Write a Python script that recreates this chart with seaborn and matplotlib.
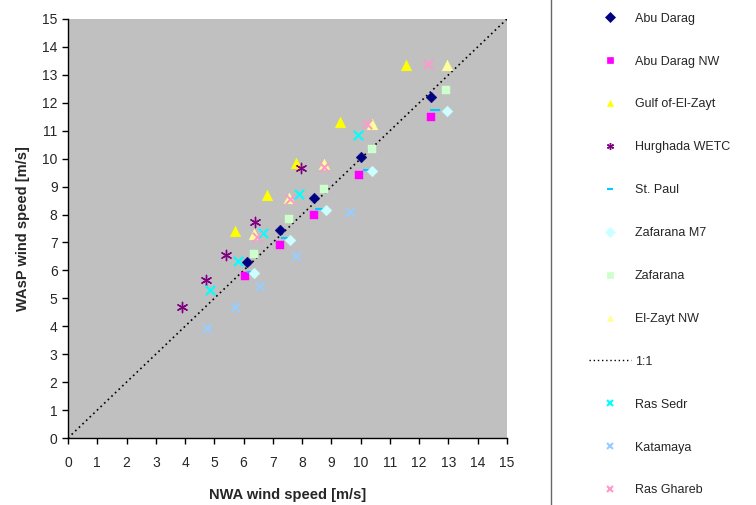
import matplotlib
matplotlib.use("Agg")
import matplotlib.pyplot as plt
from matplotlib.lines import Line2D
import seaborn as sns

# NWA vs WAsP wind speeds per station (m/s)
abu_darag_x = [6.1, 7.25, 8.4, 10.0, 12.4]
abu_darag_y = [6.3, 7.45, 8.6, 10.05, 12.2]
abu_darag_nw_x = [6.05, 7.25, 8.4, 9.95, 12.4]
abu_darag_nw_y = [5.8, 6.9, 8.0, 9.4, 11.5]
gulf_x = [5.7, 6.8, 7.8, 9.3, 11.55]
gulf_y = [7.4, 8.7, 9.85, 11.3, 13.35]
hurghada_x = [3.9, 4.7, 5.4, 6.4, 7.95]
hurghada_y = [4.7, 5.65, 6.55, 7.75, 9.65]
st_paul_x = [6.3, 7.45, 8.6, 10.25, 12.55]
st_paul_y = [5.95, 7.15, 8.2, 9.6, 11.75]
zaf_m7_x = [6.35, 7.6, 8.8, 10.4, 12.95]
zaf_m7_y = [5.9, 7.1, 8.15, 9.55, 11.7]
zafarana_x = [6.35, 7.55, 8.75, 10.4, 12.9]
zafarana_y = [6.6, 7.85, 8.9, 10.35, 12.45]
el_zayt_x = [6.35, 7.55, 8.75, 10.4, 12.95]
el_zayt_y = [7.3, 8.6, 9.8, 11.25, 13.35]
ras_sedr_x = [4.85, 5.8, 6.65, 7.9, 9.9]
ras_sedr_y = [5.3, 6.35, 7.35, 8.75, 10.85]
katamaya_x = [4.75, 5.7, 6.55, 7.8, 9.65]
katamaya_y = [3.95, 4.7, 5.45, 6.5, 8.1]
ras_ghareb_x = [6.45, 7.6, 8.75, 10.2, 12.3]
ras_ghareb_y = [7.2, 8.55, 9.7, 11.25, 13.4]

one_to_one = [0, 15]
ticks = list(range(0, 16))

# (label, x, y, marker, colour, size)
series = [
    ("Abu Darag", abu_darag_x, abu_darag_y, "D", "#000080", 30),
    ("Abu Darag NW", abu_darag_nw_x, abu_darag_nw_y, "s", "#FF00FF", 40),
    ("Gulf of-El-Zayt", gulf_x, gulf_y, "^", "#FFFF00", 60),
    ("Hurghada WETC", hurghada_x, hurghada_y, (6, 2, 0), "#800080", 55),
    ("St. Paul", st_paul_x, st_paul_y, "_", "#00CCFF", 60),
    ("Zafarana M7", zaf_m7_x, zaf_m7_y, "D", "#CCFFFF", 30),
    ("Zafarana", zafarana_x, zafarana_y, "s", "#CCFFCC", 40),
    ("El-Zayt NW", el_zayt_x, el_zayt_y, "^", "#FFFF99", 60),
    ("Ras Sedr", ras_sedr_x, ras_sedr_y, "x", "#00FFFF", 45),
    ("Katamaya", katamaya_x, katamaya_y, "x", "#99CCFF", 45),
    ("Ras Ghareb", ras_ghareb_x, ras_ghareb_y, "x", "#FF99CC", 45),
]

sns.set_style("ticks")
plt.rcParams["font.family"] = ["Liberation Sans", "DejaVu Sans"]

fig = plt.figure(figsize=(7.56, 5.05), dpi=100)
ax = fig.add_axes([68 / 756, 67 / 505, 439 / 756, 419 / 505])
ax.set_facecolor("#C0C0C0")

handles = {}
for label, xs, ys, mk, col, sz in series:
    unfilled = mk in ("x", "_") or isinstance(mk, tuple)
    lw = 1.0 if isinstance(mk, tuple) else (1.5 if unfilled else 0.3)
    sns.scatterplot(x=xs, y=ys, marker=mk, color=col, s=sz, ax=ax,
                    edgecolor=col, linewidth=lw, zorder=3)
    handles[label] = Line2D([], [], linestyle="none", marker=mk, color=col,
                            markeredgecolor=col, markersize=5,
                            markeredgewidth=lw if unfilled else 0.5)

sns.lineplot(x=one_to_one, y=one_to_one, ax=ax, color="black",
             linestyle=(0, (1, 2)), linewidth=1.2, zorder=2)
handles["1:1"] = Line2D([], [], color="black", linestyle=(0, (1, 2)), linewidth=1)

ax.set_xlim(0, 15)
ax.set_ylim(0, 15)
ax.set_xticks(ticks)
ax.set_yticks(ticks)
ax.tick_params(labelsize=10, length=4, width=1, direction="out", color="black")
ax.tick_params(axis="x", pad=9)
for side in ("top", "right"):
    ax.spines[side].set_visible(False)
for side in ("left", "bottom"):
    ax.spines[side].set_color("black")
    ax.spines[side].set_linewidth(1)
ax.set_xlabel("NWA wind speed [m/s]", fontsize=10.5, fontweight="bold", labelpad=13)
ax.set_ylabel("WAsP wind speed [m/s]", fontsize=10.5, fontweight="bold", labelpad=9)

order = ["Abu Darag", "Abu Darag NW", "Gulf of-El-Zayt", "Hurghada WETC",
         "St. Paul", "Zafarana M7", "Zafarana", "El-Zayt NW", "1:1",
         "Ras Sedr", "Katamaya", "Ras Ghareb"]
leg = fig.legend([handles[k] for k in order], order, loc="upper left",
                 bbox_to_anchor=(545 / 756, 1 + 31 / 505), frameon=True,
                 fancybox=False, edgecolor="#404040", fontsize=9,
                 labelspacing=2.47, borderpad=3.0, handlelength=3.4,
                 handletextpad=0.3)
leg.get_frame().set_linewidth(1)

fig.savefig("out.png", dpi=100)
